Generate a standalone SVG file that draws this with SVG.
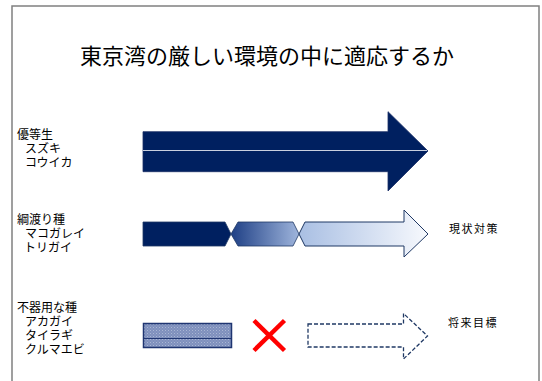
<svg xmlns="http://www.w3.org/2000/svg" width="542" height="381" viewBox="0 0 542 381">
  <style>
    .t { font-family: "Noto Sans CJK JP", "Noto Sans", sans-serif; fill: #000; }
    .lbl { font-size: 12px; }
    .side { font-size: 11px; letter-spacing: 1.5px; }
  </style>
  <defs>
    <linearGradient id="gMid" x1="231" y1="0" x2="299" y2="0" gradientUnits="userSpaceOnUse">
      <stop offset="0" stop-color="#1e3f85"/>
      <stop offset="1" stop-color="#9fb5dc"/>
    </linearGradient>
    <linearGradient id="gEnd" x1="299" y1="0" x2="428" y2="0" gradientUnits="userSpaceOnUse">
      <stop offset="0" stop-color="#a9bfe3"/>
      <stop offset="1" stop-color="#f7f9fd"/>
    </linearGradient>
    <pattern id="pDots" width="3" height="3" patternUnits="userSpaceOnUse">
      <rect width="3" height="3" fill="#7e90bd"/>
      <rect width="1" height="1" fill="#aab6d4"/>
      <rect x="1.5" y="1.5" width="1" height="1" fill="#98a6ca"/>
    </pattern>
  </defs>

  <path d="M12 381 V6 H539 V381" fill="none" stroke="#808080" stroke-width="1.5"/>

  <text class="t" x="267" y="64" font-size="22" text-anchor="middle">東京湾の厳しい環境の中に適応するか</text>

  <g id="label-yutosei">
    <text class="t lbl"><tspan x="17" y="139">優等生</tspan><tspan x="25" y="153">スズキ</tspan><tspan x="25" y="167">コウイカ</tspan></text>
  </g>
  <g id="label-tsunawatari">
    <text class="t lbl"><tspan x="17" y="224">綱渡り種</tspan><tspan x="25" y="238">マコガレイ</tspan><tspan x="24" y="252">トリガイ</tspan></text>
  </g>
  <g id="label-bukiyou">
    <text class="t lbl"><tspan x="17" y="312">不器用な種</tspan><tspan x="25" y="326">アカガイ</tspan><tspan x="25" y="340">タイラギ</tspan><tspan x="25" y="354">クルマエビ</tspan></text>
  </g>

  <g id="arrow-yutosei">
    <polygon points="143,131.7 388,131.7 388,111.7 428,151 388,191 388,171.7 143,171.7" fill="#002060" stroke="#1a2f66" stroke-width="0.8"/>
    <line x1="143" y1="150.5" x2="427" y2="150.5" stroke="#c9d0df" stroke-width="1"/>
  </g>

  <g id="arrow-tsunawatari">
    <polygon points="143,222 225,222 231,234 225,246 143,246" fill="#002060" stroke="#1f3864" stroke-width="0.8"/>
    <polygon points="231,234 238,222 293,222 299,234 293,246 238,246" fill="url(#gMid)" stroke="#1f3864" stroke-width="0.8"/>
    <polygon points="299,234 305,222 404,222 404,210 428,234 404,257 404,246 305,246" fill="url(#gEnd)" stroke="#1f3864" stroke-width="1"/>
  </g>
  <text id="label-genjo" class="t side" x="449" y="233">現状対策</text>

  <g id="block-bukiyou">
    <rect x="143.5" y="323.5" width="88" height="24" fill="url(#pDots)" stroke="#1f3571" stroke-width="1.5"/>
    <line x1="143.5" y1="338.5" x2="231.5" y2="338.5" stroke="#1f3571" stroke-width="1"/>
  </g>

  <g id="cross">
    <line x1="254" y1="320.5" x2="284.5" y2="350.5" stroke="#ff0000" stroke-width="4.5"/>
    <line x1="284.5" y1="320.5" x2="254" y2="350.5" stroke="#ff0000" stroke-width="4.5"/>
  </g>

  <g id="arrow-future">
    <polygon points="308,324 403.5,324 403.5,313.5 427.5,336 403.5,359 403.5,347 308,347" fill="none" stroke="#1f3864" stroke-width="1.3" stroke-dasharray="4,2"/>
  </g>
  <text id="label-shorai" class="t side" x="448" y="327">将来目標</text>
</svg>
